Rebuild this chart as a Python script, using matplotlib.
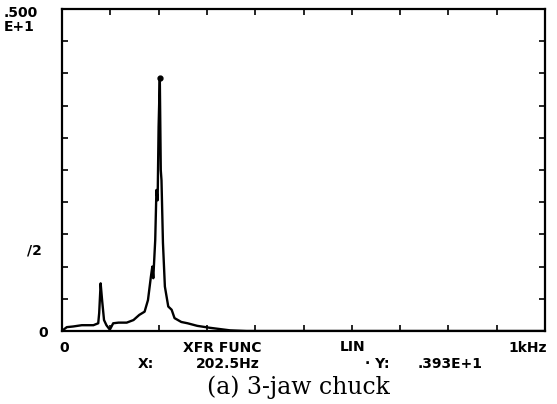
import numpy as np
import matplotlib
matplotlib.use("Agg")
import matplotlib.pyplot as plt

# transfer function magnitude (Hz, linear units)
freq = [0, 3, 10, 23, 41, 65, 75, 77, 80, 83, 87, 92, 99, 106, 117, 134, 148, 160,
        171, 178, 184, 187, 189, 193, 195.5, 198, 200, 202.5, 204.5, 206, 209, 213,
        220, 227, 233, 247, 260, 280, 306, 348, 382, 1000]
amp = [0.0, 0.02, 0.06, 0.07, 0.09, 0.09, 0.12, 0.28, 0.74, 0.48, 0.17, 0.09, 0.02,
       0.12, 0.13, 0.13, 0.17, 0.25, 0.3, 0.48, 0.84, 1.0, 0.82, 1.41, 2.19, 2.03,
       3.17, 3.93, 2.5, 2.34, 1.37, 0.69, 0.38, 0.33, 0.2, 0.14, 0.12, 0.08, 0.05,
       0.01, 0.0, 0.0]
cursor_x = 202.5
cursor_y = 3.93
y_max = 5.0
x_max = 1000

W, H = 557, 404
fig = plt.figure(figsize=(W/100, H/100), dpi=100)
L, R, T, B = 62, 545, 9, 331
ax = fig.add_axes([L/W, 1-B/H, (R-L)/W, (B-T)/H])

ax.plot(freq, amp, color='black', lw=1.7)
ax.plot([cursor_x], [cursor_y], 'o', color='black', ms=3.5)

ax.set_xlim(0, x_max)
ax.set_ylim(0, y_max)
ax.set_xticks(np.arange(0, x_max+1, 100))
ax.set_yticks(np.arange(0, y_max+0.01, 0.5))
ax.tick_params(direction='in', length=4, width=1.2, top=True, right=True,
               labelbottom=False, labelleft=False)
for s in ax.spines.values():
    s.set_linewidth(1.6)

def px(x, y, s, **kw):
    fig.text(x/W, 1-y/H, s, **kw)

inst = dict(fontfamily='DejaVu Sans', fontweight='bold', fontsize=10, va='center')
px(4, 13, '.500', **inst)
px(4, 27, 'E+1', **inst)
px(27, 251, '/2', **inst)
px(38, 333, '0', **inst)
px(59, 348, '0', **inst)
px(183, 348, 'XFR FUNC', **inst)
px(340, 347, 'LIN', **inst)
px(508, 348, '1kHz', **inst)
px(138, 364, 'X:', **inst)
px(196, 364, '%.1fHz' % cursor_x, **inst)
px(365, 364, '\u00b7 Y:', **inst)
px(418, 364, '.%03dE+1' % round(cursor_y*100), **inst)

px(298, 387, '(a) 3-jaw chuck', fontfamily='DejaVu Serif', fontsize=17,
   ha='center', va='center')

fig.savefig('out.png', dpi=100)
